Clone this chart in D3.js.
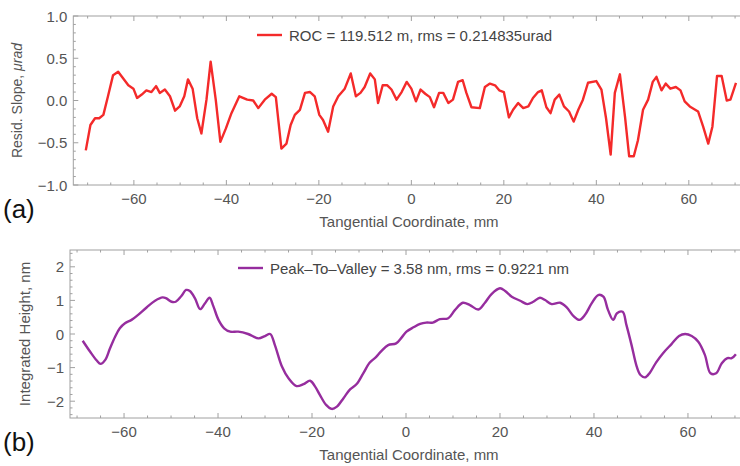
<!DOCTYPE html>
<html>
<head>
<meta charset="utf-8">
<script src="https://cdn.jsdelivr.net/npm/d3@7"></script>
<style>
  body { margin: 0; background: #fff; }
  text { font-family: "Liberation Sans", Arial, sans-serif; }
</style>
</head>
<body>
<div id="chart"></div>
<script>
// (a) residual slope
const slopeX = [-70.4, -69.4, -68.4, -67.5, -66.6, -65.6, -64.5, -63.4, -62.3, -61.2, -60.1, -59.3, -58.3, -57.3, -56.2, -55.2, -54.4, -53.3, -52.2, -51.1,
  -50.1, -49.1, -48.3, -47.3, -46.3, -45.4, -44.3, -43.4, -42.3, -41.3, -40.1, -38.9, -37.2, -35.5, -34.2, -33.1, -31.7, -30.2, -29.3, -28.1,
  -27.0, -26.1, -25.2, -24.1, -23.0, -21.9, -20.9, -19.9, -19.1, -18.0, -16.9, -15.8, -14.4, -13.1, -12.0, -11.0, -10.1, -8.9, -7.9, -7.2,
  -6.2, -5.2, -4.3, -3.2, -2.1, -1.0, 0.0, 1.0, 2.0, 3.0, 4.0, 4.9, 6.0, 6.9, 8.0, 9.0, 10.1, 11.1, 11.9, 13.0,
  14.8, 15.9, 17.0, 18.1, 19.0, 20.0, 21.1, 22.0, 23.1, 24.2, 25.3, 26.3, 27.4, 28.2, 29.2, 30.1, 31.0, 32.0, 33.0, 34.1,
  35.1, 36.1, 37.1, 38.2, 40.0, 41.1, 42.1, 43.1, 44.0, 45.1, 46.2, 47.1, 48.1, 49.0, 50.1, 51.2, 52.2, 53.0, 54.1, 55.0,
  56.0, 57.2, 58.2, 59.1, 60.2, 62.0, 63.1, 64.2, 65.1, 66.1, 67.1, 68.2, 69.0, 70.2];
const slopeY = [-0.59, -0.29, -0.21, -0.21, -0.17, 0.05, 0.30, 0.34, 0.26, 0.18, 0.14, 0.03, 0.07, 0.12, 0.10, 0.17, 0.09, 0.13, 0.05, -0.12,
  -0.07, 0.05, 0.25, 0.14, -0.21, -0.39, 0.01, 0.46, 0.01, -0.49, -0.33, -0.15, 0.05, 0.01, 0.00, -0.09, 0.01, 0.08, 0.04, -0.57,
  -0.51, -0.29, -0.17, -0.11, 0.09, 0.10, 0.05, -0.17, -0.23, -0.37, -0.07, 0.05, 0.14, 0.32, 0.05, 0.09, 0.16, 0.32, 0.25, -0.03,
  0.18, 0.18, 0.13, 0.01, 0.10, 0.22, 0.14, -0.01, 0.13, 0.08, 0.04, -0.08, 0.09, 0.09, -0.03, 0.01, 0.22, 0.24, 0.09, -0.08,
  -0.09, 0.16, 0.20, 0.18, 0.12, 0.10, -0.20, -0.11, -0.03, -0.09, -0.07, 0.03, 0.10, 0.12, -0.08, -0.15, 0.01, 0.07, -0.07, -0.13,
  -0.25, -0.11, 0.01, 0.21, 0.23, 0.13, -0.21, -0.64, 0.09, 0.31, -0.19, -0.66, -0.66, -0.47, -0.11, 0.01, 0.22, 0.28, 0.12, 0.20,
  0.14, 0.16, 0.12, -0.01, -0.07, -0.13, -0.31, -0.51, -0.31, 0.29, 0.29, 0.00, 0.01, 0.21];

// (b) integrated height
const heightX = [-68.8, -67.2, -65.8, -65.0, -64.0, -63.0, -61.9, -60.9, -59.8, -58.4, -57.0, -55.2, -53.4, -51.8, -51.0, -49.9, -49.0, -47.8, -46.8, -46.0,
  -44.9, -43.8, -42.8, -41.8, -41.0, -39.9, -38.7, -37.4, -35.7, -33.6, -31.4, -30.0, -28.9, -27.9, -26.4, -25.0, -23.3, -21.8, -20.4, -19.4,
  -18.3, -17.0, -15.8, -14.7, -13.3, -11.9, -10.5, -9.1, -7.7, -6.4, -5.2, -3.8, -2.1, -0.9, 0.1, 1.6, 3.0, 4.3, 5.7, 7.2,
  9.0, 10.4, 12.1, 13.6, 15.4, 16.8, 18.2, 20.0, 21.1, 22.5, 24.3, 25.8, 27.1, 28.5, 29.6, 31.0, 32.8, 34.2, 35.6, 36.9,
  38.1, 39.5, 40.9, 42.0, 43.0, 44.1, 44.9, 46.1, 46.9, 48.0, 49.1, 49.9, 50.9, 51.9, 53.2, 54.7, 56.5, 58.1, 59.4, 60.8,
  62.2, 63.6, 64.8, 66.0, 67.2, 68.4, 69.3, 70.2];
const heightY = [-0.20, -0.53, -0.79, -0.89, -0.77, -0.43, -0.08, 0.17, 0.32, 0.42, 0.57, 0.79, 0.99, 1.09, 1.06, 0.96, 0.96, 1.13, 1.31, 1.28,
  1.06, 0.74, 0.91, 1.08, 0.83, 0.42, 0.17, 0.07, 0.07, 0.00, -0.13, -0.06, 0.00, -0.33, -0.97, -1.32, -1.55, -1.49, -1.39, -1.55,
  -1.82, -2.11, -2.23, -2.16, -1.91, -1.65, -1.49, -1.17, -0.85, -0.69, -0.50, -0.33, -0.28, -0.10, 0.07, 0.20, 0.30, 0.34, 0.34, 0.44,
  0.47, 0.71, 0.93, 0.86, 0.73, 0.93, 1.19, 1.36, 1.28, 1.11, 0.99, 0.89, 0.96, 1.08, 1.01, 0.89, 0.93, 0.79, 0.54, 0.42,
  0.57, 0.91, 1.16, 1.11, 0.71, 0.42, 0.62, 0.66, 0.27, -0.33, -0.97, -1.22, -1.29, -1.15, -0.85, -0.57, -0.30, -0.06, 0.00, -0.06,
  -0.23, -0.62, -1.17, -1.17, -0.87, -0.72, -0.72, -0.60];

const xTicks = [-60, -40, -20, 0, 20, 40, 60];
const slopeTicks = [-1.0, -0.5, 0.0, 0.5, 1.0];
const heightTicks = [-2, -1, 0, 1, 2];
const slopeLegend = 'ROC = 119.512 m,  rms = 0.214835urad';
const heightLegend = 'Peak\u2013To\u2013Valley = 3.58 nm, rms = 0.9221 nm';

const width = 740, height = 466;
const frameColor = '#a0a0a0';
const labelColor = '#555';

const svg = d3.select('#chart').append('svg')
  .attr('width', width)
  .attr('height', height);

const fmtMinus = s => s.replace('-', '\u2212');

function drawPanel(p) {
  const x = d3.scaleLinear().domain(p.xDomain).range([p.left, p.right]);
  const y = d3.scaleLinear().domain(p.yDomain).range([p.bottom, p.top]);
  const g = svg.append('g');

  // frame
  g.append('rect')
    .attr('x', p.left).attr('y', p.top)
    .attr('width', p.right - p.left).attr('height', p.bottom - p.top)
    .attr('fill', 'none').attr('stroke', frameColor).attr('stroke-width', 1);

  // ticks on all four sides, pointing inward
  const xMinor = d3.range(-70, 71, 5);
  xMinor.forEach(v => {
    const major = v % 20 === 0;
    const len = major ? 5 : 2.5;
    g.append('line').attr('x1', x(v)).attr('x2', x(v)).attr('y1', p.bottom).attr('y2', p.bottom - len)
      .attr('stroke', frameColor);
    g.append('line').attr('x1', x(v)).attr('x2', x(v)).attr('y1', p.top).attr('y2', p.top + len)
      .attr('stroke', frameColor);
  });
  p.yMinor.forEach(v => {
    const major = p.yTicks.some(t => Math.abs(t - v) < 1e-6);
    const len = major ? 5 : 2.5;
    g.append('line').attr('x1', p.left).attr('x2', p.left + len).attr('y1', y(v)).attr('y2', y(v))
      .attr('stroke', frameColor);
  });

  // tick labels
  g.selectAll('.xt').data(xTicks).enter().append('text')
    .attr('x', d => x(d)).attr('y', p.bottom + 18.5)
    .attr('text-anchor', 'middle')
    .attr('font-size', 15).attr('fill', labelColor)
    .text(d => fmtMinus(String(d)));
  g.selectAll('.yt').data(p.yTicks).enter().append('text')
    .attr('x', p.left - 6).attr('y', d => y(d) + 5.5)
    .attr('text-anchor', 'end')
    .attr('font-size', 15).attr('fill', labelColor)
    .text(d => fmtMinus(p.yFormat(d)));

  // axis titles
  g.append('text')
    .attr('x', 409).attr('y', p.bottom + 41.5)
    .attr('text-anchor', 'middle')
    .attr('font-size', 15).attr('fill', labelColor)
    .text('Tangential Coordinate, mm');
  const yt = g.append('text')
    .attr('transform', `translate(${p.yTitleX},${(p.top + p.bottom) / 2}) rotate(-90)`)
    .attr('text-anchor', 'middle')
    .attr('font-size', p.yTitleSize).attr('fill', labelColor);
  p.yTitle.forEach(part => {
    yt.append('tspan').attr('font-style', part.italic ? 'italic' : null).text(part.t);
  });

  // panel letter
  svg.append('text')
    .attr('x', 3).attr('y', p.bottom + 33)
    .attr('font-family', 'Lato, "Open Sans", sans-serif')
    .attr('font-size', 26).attr('fill', '#111')
    .text(p.letter);

  // data line
  const line = d3.line()
    .x(d => x(d[0]))
    .y(d => y(d[1]))
    .curve(p.curve);
  g.append('path')
    .datum(d3.zip(p.xs, p.ys))
    .attr('d', line)
    .attr('fill', 'none')
    .attr('stroke', p.color)
    .attr('stroke-width', 2.4)
    .attr('stroke-linejoin', 'round');

  // legend
  const lg = g.append('g');
  const lt = lg.append('text')
    .attr('x', p.legendX + 32).attr('y', p.legendY + 5.5)
    .attr('font-size', 15).attr('fill', '#444')
    .text(p.legend);
  const w = lt.node().getComputedTextLength();
  lg.insert('rect', 'text')
    .attr('x', p.legendX - 8).attr('y', p.legendY - 12)
    .attr('width', w + 48).attr('height', 24)
    .attr('fill', '#fff');
  lg.append('line')
    .attr('x1', p.legendX).attr('x2', p.legendX + 25)
    .attr('y1', p.legendY).attr('y2', p.legendY)
    .attr('stroke', p.color).attr('stroke-width', 2.4);
}

drawPanel({
  xDomain: [-73.1, 73.1], left: 73.3, right: 749.4,
  yDomain: [-1, 1], top: 16, bottom: 185,
  yTicks: slopeTicks, yMinor: d3.range(-10, 11).map(d => d / 10),
  yFormat: d3.format('.1f'),
  yTitle: [{ t: 'Resid. Slope, ' }, { t: '\u03bcrad', italic: true }], yTitleX: 22, yTitleSize: 14,
  xs: slopeX, ys: slopeY, color: '#f42a2a', curve: d3.curveLinear,
  legend: slopeLegend, legendX: 257, legendY: 35, letter: '(a)'
});

drawPanel({
  xDomain: [-71.5, 71.5], left: 70, right: 742,
  yDomain: [-2.5, 2.5], top: 250, bottom: 418,
  yTicks: heightTicks, yMinor: d3.range(-12, 13).map(d => d / 5),
  yFormat: d3.format('d'),
  yTitle: [{ t: 'Integrated Height, nm' }], yTitleX: 30, yTitleSize: 15,
  xs: heightX, ys: heightY, color: '#962d9e', curve: d3.curveCatmullRom,
  legend: heightLegend, legendX: 238, legendY: 268, letter: '(b)'
});
</script>
</body>
</html>
